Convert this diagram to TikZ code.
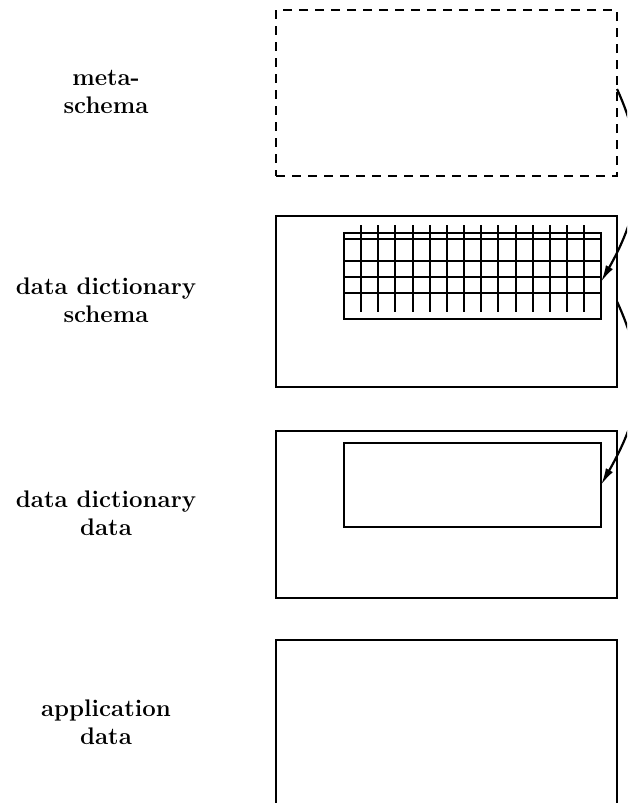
\documentclass[tikz,border=0pt]{standalone}
\usetikzlibrary{arrows.meta}
\begin{document}
\begin{tikzpicture}[x=1pt,y=-1pt,
  level/.style={draw,line width=2pt,minimum width=341pt,minimum height=#1,inner sep=0pt,outer sep=0pt},
  metabox/.style={level=166pt,dashed,dash pattern=on 9pt off 7pt},
  table/.style={draw,line width=2pt,minimum width=257pt,minimum height=#1,inner sep=0pt,outer sep=0pt},
  gridline/.style={line width=2pt},
  caption/.style={align=center,font=\fontsize{24}{28.5}\selectfont\bfseries},
  link/.style={line width=2.2pt,-{Latex[length=17pt,width=8pt]}}]
\useasboundingbox (0,0) rectangle (627,803);
\clip (0,0) rectangle (627,803);
% the four levels
\node[metabox] (meta) at (446.5,93) {};
\node[level=171pt] (ddschema) at (446.5,301.5) {};
\node[level=167pt] (dddata) at (446.5,514.5) {};
\node[level=190pt] (appdata) at (446.5,735) {};
% table of the data dictionary schema
\node[table=86pt] (grid) at (472.5,276) {};
\foreach \yy in {239,261,277,293}
  \draw[gridline] (344,\yy) -- (601,\yy);
\foreach \xx in {361,378,395,413,430,447,464,481,498,516,533,550,567,584}
  \draw[gridline] (\xx,225) -- (\xx,312);
% inner box of the data dictionary data
\node[table=84pt] (entries) at (472.5,485) {};
% captions
\node[caption] (lmeta) at (106,92) {meta-\\schema};
\node[caption] (lddschema) at (106,300) {data dictionary\\schema};
\node[caption] (lddata) at (106,513) {data dictionary\\data};
\node[caption] (lapp) at (106,722) {application\\data};
% instance-of links
\draw[link] ([yshift=4pt]meta.east) .. controls +(33,72) and +(39,-69) .. ([yshift=-6pt]grid.east);
\draw[link] (ddschema.east) .. controls +(33,72) and +(39,-69) .. (entries.east);
\end{tikzpicture}
\end{document}
